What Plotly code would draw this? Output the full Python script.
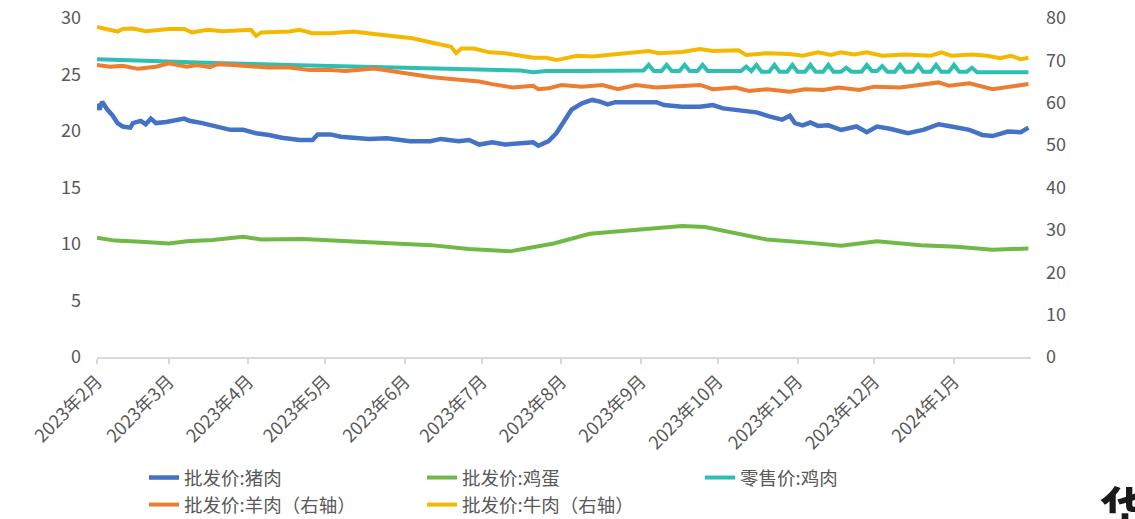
import plotly.graph_objects as go

# ---------------- data ----------------
# 批发价:猪肉 (left axis)
pork_dates = [
    "2023-02-01", "2023-02-02", "2023-02-03", "2023-02-05", "2023-02-07", "2023-02-09", "2023-02-11",
    "2023-02-14", "2023-02-15", "2023-02-18", "2023-02-20", "2023-02-22", "2023-02-24", "2023-02-28",
    "2023-03-07", "2023-03-09", "2023-03-14", "2023-03-20", "2023-03-25", "2023-03-30",
    "2023-04-04", "2023-04-09", "2023-04-14", "2023-04-21", "2023-04-26", "2023-04-28",
    "2023-05-03", "2023-05-07", "2023-05-12", "2023-05-18", "2023-05-25",
    "2023-06-03", "2023-06-11", "2023-06-15", "2023-06-22", "2023-06-26", "2023-06-30",
    "2023-07-05", "2023-07-10", "2023-07-16", "2023-07-21", "2023-07-23", "2023-07-27", "2023-07-30",
    "2023-08-02", "2023-08-05", "2023-08-09", "2023-08-13", "2023-08-16", "2023-08-19", "2023-08-22", "2023-08-27",
    "2023-09-03", "2023-09-07", "2023-09-10", "2023-09-17", "2023-09-24", "2023-09-29",
    "2023-10-03", "2023-10-11", "2023-10-16", "2023-10-21", "2023-10-26", "2023-10-29", "2023-10-31",
    "2023-11-03", "2023-11-06", "2023-11-09", "2023-11-13", "2023-11-18", "2023-11-24", "2023-11-28",
    "2023-12-02", "2023-12-07", "2023-12-14", "2023-12-20", "2023-12-26", "2023-12-31",
    "2024-01-07", "2024-01-12", "2024-01-16", "2024-01-22", "2024-01-27", "2024-01-30",
]
pork_values = [
    22.4, 21.9, 22.6, 21.9, 21.4, 20.7, 20.4,
    20.3, 20.7, 20.9, 20.6, 21.1, 20.7, 20.8,
    21.1, 20.9, 20.7, 20.4, 20.1, 20.1,
    19.8, 19.65, 19.4, 19.2, 19.2, 19.7,
    19.7, 19.5, 19.4, 19.3, 19.35,
    19.1, 19.1, 19.3, 19.1, 19.2, 18.8,
    19.0, 18.8, 18.9, 19.0, 18.7, 19.1, 19.8,
    20.8, 21.9, 22.45, 22.75, 22.6, 22.35, 22.55, 22.55,
    22.65, 22.55, 22.3, 22.15, 22.15, 22.3,
    22.0, 21.8, 21.65, 21.3, 21.0, 21.35, 20.7,
    20.5, 20.75, 20.45, 20.5, 20.1, 20.4, 19.9,
    20.4, 20.2, 19.8, 20.1, 20.6, 20.4,
    20.1, 19.65, 19.55, 19.95, 19.9, 20.3,
]

# 批发价:鸡蛋 (left axis)
egg_dates = [
    "2023-02-01", "2023-02-08", "2023-02-18", "2023-03-01", "2023-03-08", "2023-03-18", "2023-03-30",
    "2023-04-06", "2023-04-22", "2023-05-12", "2023-05-26", "2023-06-11", "2023-06-26",
    "2023-07-12", "2023-07-17", "2023-07-29", "2023-08-12", "2023-08-27", "2023-09-05",
    "2023-09-17", "2023-09-26", "2023-10-11", "2023-10-20", "2023-11-06", "2023-11-18",
    "2023-12-02", "2023-12-19", "2024-01-02", "2024-01-16", "2024-01-30",
]
egg_values = [
    10.55, 10.3, 10.2, 10.05, 10.25, 10.35, 10.65,
    10.4, 10.45, 10.25, 10.1, 9.9, 9.55,
    9.35, 9.55, 10.05, 10.9, 11.2, 11.3,
    11.6, 11.5, 10.85, 10.4, 10.1, 9.85,
    10.25, 9.9, 9.75, 9.5, 9.6,
]

# 零售价:鸡肉 (left axis)
chicken_dates = [
    "2023-02-01", "2023-02-24", "2023-03-22", "2023-04-17", "2023-05-03", "2023-05-22", "2023-06-04",
    "2023-07-01", "2023-07-16", "2023-07-21", "2023-07-26", "2023-08-10", "2023-08-25",
    "2023-09-02", "2023-09-04", "2023-09-06", "2023-09-09", "2023-09-11", "2023-09-13",
    "2023-09-16", "2023-09-18", "2023-09-20", "2023-09-23", "2023-09-25", "2023-09-27",
    "2023-10-10", "2023-10-12", "2023-10-14", "2023-10-16", "2023-10-18", "2023-10-21",
    "2023-10-23", "2023-10-25", "2023-10-28", "2023-10-30", "2023-11-01",
    "2023-11-04", "2023-11-06", "2023-11-08", "2023-11-11", "2023-11-13", "2023-11-15",
    "2023-11-18", "2023-11-20", "2023-11-22", "2023-11-26", "2023-11-28", "2023-11-30",
    "2023-12-02", "2023-12-04", "2023-12-06", "2023-12-09", "2023-12-11", "2023-12-13",
    "2023-12-16", "2023-12-18", "2023-12-20", "2023-12-23", "2023-12-25", "2023-12-27",
    "2023-12-30", "2024-01-01", "2024-01-03", "2024-01-06", "2024-01-08", "2024-01-10",
    "2024-01-30",
]
chicken_values = [
    26.35, 26.15, 26.0, 25.85, 25.75, 25.65, 25.55,
    25.4, 25.35, 25.2, 25.3, 25.3, 25.35,
    25.35, 25.85, 25.3, 25.3, 25.85, 25.3,
    25.3, 25.85, 25.3, 25.3, 25.85, 25.3,
    25.3, 25.7, 25.3, 25.85, 25.25, 25.25,
    25.85, 25.25, 25.25, 25.85, 25.25,
    25.25, 25.85, 25.25, 25.25, 25.85, 25.25,
    25.25, 25.6, 25.25, 25.25, 25.85, 25.3,
    25.3, 25.75, 25.25, 25.25, 25.85, 25.25,
    25.25, 25.85, 25.25, 25.25, 25.85, 25.25,
    25.25, 25.85, 25.25, 25.25, 25.6, 25.2,
    25.2,
]

# 批发价:羊肉 (right axis)
mutton_dates = [
    "2023-02-01", "2023-02-06", "2023-02-11", "2023-02-17", "2023-02-24", "2023-03-01", "2023-03-08",
    "2023-03-12", "2023-03-17", "2023-03-20", "2023-03-26", "2023-04-02", "2023-04-09", "2023-04-17",
    "2023-04-25", "2023-05-03", "2023-05-09", "2023-05-20", "2023-05-29", "2023-06-06", "2023-06-11",
    "2023-06-19", "2023-06-24", "2023-06-30", "2023-07-05", "2023-07-13", "2023-07-21", "2023-07-23",
    "2023-07-27", "2023-08-01", "2023-08-09", "2023-08-17", "2023-08-23", "2023-08-30", "2023-09-07",
    "2023-09-15", "2023-09-24", "2023-09-29", "2023-10-08", "2023-10-13", "2023-10-20", "2023-10-29",
    "2023-11-04", "2023-11-11", "2023-11-17", "2023-11-25", "2023-12-01", "2023-12-11", "2023-12-20",
    "2023-12-26", "2023-12-30", "2024-01-07", "2024-01-16", "2024-01-22", "2024-01-30",
]
mutton_values = [
    68.9, 68.5, 68.7, 68.0, 68.5, 69.3, 68.5,
    68.9, 68.4, 69.1, 68.9, 68.5, 68.3, 68.3,
    67.7, 67.7, 67.5, 68.1, 67.2, 66.5, 66.1,
    65.6, 65.4, 65.0, 64.4, 63.6, 64.0, 63.2,
    63.4, 64.2, 63.8, 64.2, 63.2, 64.2, 63.6,
    63.8, 64.2, 63.2, 63.6, 62.8, 63.2, 62.6,
    63.2, 63.0, 63.6, 63.0, 63.8, 63.6, 64.2,
    64.8, 64.0, 64.6, 63.2, 63.8, 64.4,
]

# 批发价:牛肉 (right axis)
beef_dates = [
    "2023-02-01", "2023-02-04", "2023-02-09", "2023-02-11", "2023-02-15", "2023-02-20", "2023-02-24",
    "2023-03-01", "2023-03-07", "2023-03-10", "2023-03-16", "2023-03-22", "2023-04-02", "2023-04-04",
    "2023-04-06", "2023-04-17", "2023-04-21", "2023-04-26", "2023-05-03", "2023-05-12", "2023-05-20",
    "2023-05-26", "2023-06-04", "2023-06-10", "2023-06-15", "2023-06-19", "2023-06-21", "2023-06-23",
    "2023-06-28", "2023-07-04", "2023-07-10", "2023-07-16", "2023-07-21", "2023-07-26", "2023-07-30",
    "2023-08-01", "2023-08-07", "2023-08-13", "2023-08-19", "2023-08-27", "2023-09-04", "2023-09-08",
    "2023-09-17", "2023-09-24", "2023-09-29", "2023-10-09", "2023-10-12", "2023-10-20", "2023-10-29",
    "2023-11-03", "2023-11-09", "2023-11-14", "2023-11-18", "2023-11-23", "2023-11-28", "2023-12-04",
    "2023-12-13", "2023-12-23", "2023-12-27", "2023-12-31", "2024-01-08", "2024-01-14", "2024-01-19",
    "2024-01-23", "2024-01-27", "2024-01-30",
]
beef_values = [
    77.9, 77.5, 76.8, 77.4, 77.5, 76.9, 77.2,
    77.4, 77.4, 76.6, 77.2, 76.9, 77.2, 75.8,
    76.6, 76.8, 77.2, 76.4, 76.4, 76.8, 76.2,
    75.8, 75.2, 74.4, 73.8, 73.2, 71.7, 72.8,
    72.8, 71.9, 71.7, 71.1, 70.6, 70.6, 70.1,
    70.3, 71.1, 70.9, 71.3, 71.9, 72.2, 71.7,
    72.0, 72.7, 72.2, 72.4, 71.3, 71.7, 71.5,
    71.1, 71.9, 71.3, 71.9, 71.4, 71.9, 71.1,
    71.4, 71.1, 71.9, 71.1, 71.4, 71.1, 70.5,
    71.1, 70.3, 70.6,
]

# month ticks
tick_dates = [
    "2023-02-01", "2023-03-01", "2023-04-01", "2023-05-01", "2023-06-01", "2023-07-01",
    "2023-08-01", "2023-09-01", "2023-10-01", "2023-11-01", "2023-12-01", "2024-01-01",
]
tick_labels = [
    "2023年2月", "2023年3月", "2023年4月", "2023年5月", "2023年6月", "2023年7月",
    "2023年8月", "2023年9月", "2023年10月", "2023年11月", "2023年12月", "2024年1月",
]

# ---------------- figure ----------------
FONT = "Noto Sans CJK SC, Open Sans, sans-serif"
TEXT = "#595959"
AXIS = "#D9D9D9"
W, H = 1135, 519

series = [
    ("批发价:猪肉", pork_dates, pork_values, "#4472C4", "y", 4.5),
    ("批发价:鸡蛋", egg_dates, egg_values, "#70B946", "y", 4),
    ("零售价:鸡肉", chicken_dates, chicken_values, "#2DC0B2", "y", 4),
    ("批发价:羊肉（右轴）", mutton_dates, mutton_values, "#ED7D31", "y2", 4),
    ("批发价:牛肉（右轴）", beef_dates, beef_values, "#F5B800", "y2", 4),
]

fig = go.Figure()
for name, xs, ys, color, axis, width in series:
    fig.add_trace(go.Scatter(
        x=xs, y=ys, name=name, mode="lines", yaxis=axis,
        line=dict(color=color, width=width),
    ))

fig.update_layout(
    width=W, height=H,
    margin=dict(l=97, r=104, t=18, b=162, autoexpand=False),
    paper_bgcolor="white", plot_bgcolor="white",
    font=dict(family=FONT, color=TEXT, size=16),
    xaxis=dict(
        type="date", range=["2023-02-01", "2024-01-31"],
        tickmode="array", tickvals=tick_dates, ticktext=tick_labels,
        tickangle=-45, tickfont=dict(size=18, color=TEXT),
        showgrid=False, zeroline=False, automargin=False,
        showline=True, linecolor=AXIS, linewidth=1.5,
        ticks="outside", ticklen=5, tickcolor=AXIS, tickwidth=1.5,
    ),
    yaxis=dict(
        range=[0, 30], tickmode="linear", tick0=0, dtick=5,
        showgrid=False, zeroline=False, showline=False, automargin=False,
        tickfont=dict(size=18, color=TEXT), ticklabelstandoff=15,
    ),
    yaxis2=dict(
        range=[0, 80], tickmode="linear", tick0=0, dtick=10,
        overlaying="y", side="right", automargin=False,
        showgrid=False, zeroline=False, showline=False,
        tickfont=dict(size=18, color=TEXT), ticklabelstandoff=14,
    ),
    legend=dict(
        orientation="h", xref="container", yref="container",
        x=144 / W, y=1 - 459 / H, xanchor="left", yanchor="top",
        entrywidth=233, entrywidthmode="pixels",
        font=dict(size=18.5, color=TEXT), bgcolor="rgba(0,0,0,0)",
        traceorder="normal",
    ),
    showlegend=True,
)

# corner logo fragment
fig.add_annotation(
    text="<b>华</b>", xref="paper", yref="paper",
    x=(1097 - 97) / 934, y=(357 - 469) / 339, xanchor="left", yanchor="top",
    showarrow=False, font=dict(size=52, color="#1a1a1a", family=FONT),
)

fig.write_html("out.html")
